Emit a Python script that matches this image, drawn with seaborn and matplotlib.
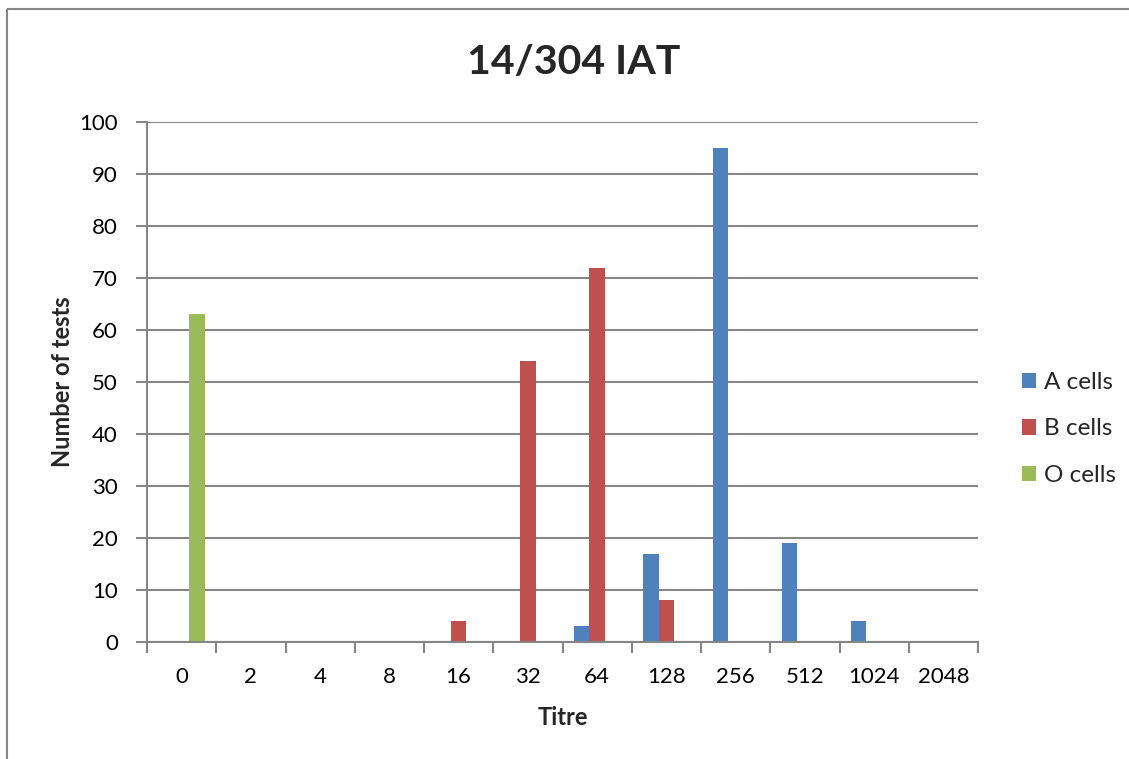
import matplotlib
matplotlib.use("Agg")
import matplotlib.pyplot as plt
from matplotlib.patches import Rectangle, Patch
from matplotlib.ticker import FixedLocator
import seaborn as sns
import pandas as pd

titres = ["0", "2", "4", "8", "16", "32", "64", "128", "256", "512", "1024", "2048"]
a_cells = [0, 0, 0, 0, 0, 0, 3, 17, 95, 19, 4, 0]
b_cells = [0, 0, 0, 0, 4, 54, 72, 8, 0, 0, 0, 0]
o_cells = [63, 0, 0, 0, 0, 0, 0, 0, 0, 0, 0, 0]
series_names = ["A cells", "B cells", "O cells"]
colors = ["#4F81BD", "#C0504D", "#9BBB59"]

df = pd.DataFrame({
    "Titre": titres * 3,
    "Series": [s for s in series_names for _ in titres],
    "Count": a_cells + b_cells + o_cells,
})

sns.set_theme(style="white")
plt.rcParams["font.family"] = ["Lato", "DejaVu Sans"]

W, H = 1129, 759
fig = plt.figure(figsize=(W / 100, H / 100), dpi=100)
fig.patch.set_facecolor("white")

# outer chart frame
fig.add_artist(Rectangle((7 / W, 1 - 9 / H), 1.5, -1.5, transform=fig.transFigure,
                         fill=False, edgecolor="#868686", linewidth=1.5))

ax = fig.add_axes([147 / W, 1 - 642 / H, (978 - 147) / W, (642 - 122) / H])
sns.barplot(data=df, x="Titre", y="Count", hue="Series", order=titres,
            hue_order=series_names, palette=colors, width=0.667, gap=0,
            linewidth=0, saturation=1, ax=ax, legend=False)

ax.set_xlim(-0.5, len(titres) - 0.5)
ax.set_ylim(0, 100)
ax.set_yticks(range(0, 101, 10))
ax.yaxis.grid(True, color="#868686", linewidth=1.5)
ax.set_axisbelow(True)
for side in ["top", "right"]:
    ax.spines[side].set_visible(False)
for side in ["left", "bottom"]:
    ax.spines[side].set_color("#868686")
    ax.spines[side].set_linewidth(1.5)

ax.tick_params(axis="y", which="major", length=8, width=1.5, color="#868686",
               labelsize=16, labelcolor="black", pad=13, left=True)
ax.tick_params(axis="x", which="major", length=0, labelsize=16, labelcolor="black", pad=18)
ax.xaxis.set_minor_locator(FixedLocator([i - 0.5 for i in range(len(titres) + 1)]))
ax.tick_params(axis="x", which="minor", length=8, width=1.5, color="#868686", bottom=True)

ax.set_xlabel("Titre", fontsize=17, fontweight="bold", labelpad=14)
ax.set_ylabel("Number of tests", fontsize=17, fontweight="bold", labelpad=4)

fig.text(574 / W, 1 - 63 / H, "14/304 IAT", fontsize=29.5, fontweight="bold",
         ha="center", va="center")

handles = [Patch(facecolor=c, edgecolor="none") for c in colors]
fig.legend(handles, series_names, loc="center left",
           bbox_to_anchor=(1000 / W, 1 - 429 / H), frameon=False, fontsize=17.5,
           handlelength=0.6, handleheight=0.6, handletextpad=0.3, labelspacing=1.05)

fig.savefig("out.png", dpi=100, facecolor="white")
